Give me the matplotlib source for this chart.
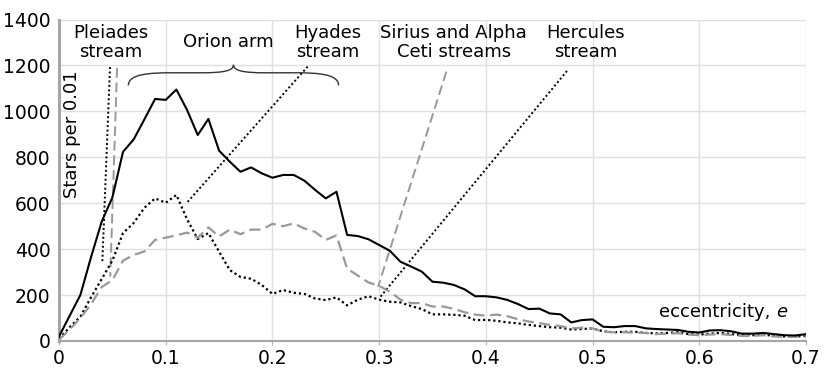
import numpy as np
import matplotlib
matplotlib.use("Agg")
import matplotlib.pyplot as plt
from matplotlib.path import Path
from matplotlib.patches import PathPatch

# eccentricity bins, step 0.01
ecc = np.round(np.arange(0, 0.701, 0.01), 2)

total = [20, 110, 200, 365, 520, 625, 824, 878, 965, 1054,
         1050, 1095, 1006, 897, 967, 829, 781, 737, 756, 730,
         711, 723, 723, 698, 658, 621, 650, 462, 457, 443,
         418, 393, 345, 324, 302, 258, 254, 244, 225, 195,
         195, 190, 179, 161, 139, 141, 120, 116, 81, 91,
         94, 62, 60, 65, 65, 55, 52, 50, 48, 40,
         37, 46, 47, 42, 32, 32, 35, 30, 25, 24, 30]

dotted = [10, 60, 106, 190, 270, 350, 470, 514, 580, 621,
          602, 636, 530, 444, 470, 389, 309, 279, 271, 244,
          205, 222, 210, 205, 185, 178, 190, 155, 180, 195,
          180, 171, 168, 152, 139, 116, 116, 114, 110, 91,
          92, 88, 81, 77, 70, 65, 60, 58, 50, 52,
          55, 42, 38, 40, 40, 35, 33, 35, 38, 30,
          28, 32, 35, 30, 25, 25, 28, 22, 20, 20, 22]

dashed = [5, 50, 100, 160, 235, 265, 350, 375, 390, 440,
          450, 460, 472, 450, 495, 455, 485, 465, 485, 485,
          510, 500, 512, 490, 475, 440, 460, 315, 285, 255,
          240, 215, 180, 165, 165, 150, 150, 140, 125, 115,
          110, 115, 108, 95, 85, 78, 70, 65, 55, 58,
          55, 40, 38, 38, 36, 35, 30, 32, 34, 28,
          25, 28, 30, 26, 22, 22, 25, 20, 18, 18, 20]

# leader lines: (x0, y0, x1, y1, style)
leaders = [
    (0.0478, 1193, 0.0406, 345, "dot"),     # Pleiades (dotted)
    (0.0544, 1189, 0.0480, 280, "dash"),    # Pleiades (dashed)
    (0.233, 1195, 0.120, 603, "dot"),       # Hyades
    (0.363, 1173, 0.299, 236, "dash"),      # Sirius / Alpha Ceti
    (0.476, 1176, 0.300, 186, "dot"),       # Hercules
]

labels = [
    ("Pleiades\nstream", 0.0485, 1380),
    ("Hyades\nstream", 0.2517, 1380),
    ("Sirius and Alpha\nCeti streams", 0.370, 1380),
    ("Hercules\nstream", 0.4935, 1380),
]

# Orion arm brace span
brace_x0, brace_x1, brace_y, brace_tip = 0.065, 0.262, 1168, 1226

fig = plt.figure(figsize=(8.3, 3.76), dpi=100)
ax = fig.add_axes([0.0711, 0.0931, 0.9, 0.8550])

dot_style = (0, (1, 1.3))
dash_style = (0, (5, 2.5))
grey = "#999999"

ax.plot(ecc, total, color="black", lw=1.5, zorder=4)
ax.plot(ecc, dotted, color="black", lw=1.6, linestyle=dot_style, zorder=3)
ax.plot(ecc, dashed, color=grey, lw=1.6, linestyle=dash_style, zorder=3)

for x0, y0, x1, y1, st in leaders:
    if st == "dot":
        ax.plot([x0, x1], [y0, y1], color="black", lw=1.4, linestyle=dot_style)
    else:
        ax.plot([x0, x1], [y0, y1], color=grey, lw=1.4, linestyle=dash_style)

# curly brace
xm = (brace_x0 + brace_x1) / 2
h = brace_tip - brace_y
verts = [
    (brace_x0, brace_y - 55),
    (brace_x0, brace_y - 5), (brace_x0 + 0.02, brace_y), (brace_x0 + 0.04, brace_y),
    (xm - 0.03, brace_y),
    (xm - 0.008, brace_y), (xm, brace_y + 10), (xm, brace_y + h * 0.6),
    (xm, brace_y + 10), (xm + 0.008, brace_y), (xm + 0.03, brace_y),
    (brace_x1 - 0.04, brace_y),
    (brace_x1 - 0.02, brace_y), (brace_x1, brace_y - 5), (brace_x1, brace_y - 55),
]
codes = [Path.MOVETO,
         Path.CURVE4, Path.CURVE4, Path.CURVE4,
         Path.LINETO,
         Path.CURVE4, Path.CURVE4, Path.CURVE4,
         Path.CURVE4, Path.CURVE4, Path.CURVE4,
         Path.LINETO,
         Path.CURVE4, Path.CURVE4, Path.CURVE4]
ax.add_patch(PathPatch(Path(verts, codes), fill=False, lw=1.0, edgecolor="#333333"))

fs = 13
for txt, x, y in labels:
    ax.text(x, y, txt, ha="center", va="top", fontsize=fs, linespacing=1.05)
ax.text(0.159, 1340, "Orion arm", ha="center", va="top", fontsize=fs)
ax.text(0.672, 103, "eccentricity, ", ha="right", va="baseline", fontsize=fs)
ax.text(0.672, 103, "e", ha="left", va="baseline", fontsize=fs, style="italic")
ax.text(0.0122, 900, "Stars per 0.01", rotation=90, ha="center", va="center", fontsize=fs)

ax.set_xlim(0, 0.7)
ax.set_ylim(0, 1400)
ax.set_xticks(np.arange(0, 0.71, 0.1))
ax.set_xticklabels(["0", "0.1", "0.2", "0.3", "0.4", "0.5", "0.6", "0.7"])
ax.set_yticks(range(0, 1401, 200))
ax.tick_params(axis="both", labelsize=13.5, colors="black")
ax.tick_params(axis="x", length=3, color="#b0b0b0", pad=3)
ax.tick_params(axis="y", length=0, pad=6)
ax.grid(True, color="#e0e0e0", lw=1.0)
ax.set_axisbelow(True)
for s in ["top", "right"]:
    ax.spines[s].set_visible(False)
ax.spines["left"].set_color("#a6a6a6")
ax.spines["left"].set_linewidth(2.2)
ax.spines["bottom"].set_color("#a6a6a6")
ax.spines["bottom"].set_linewidth(1.5)

fig.savefig("out.png", dpi=100)
